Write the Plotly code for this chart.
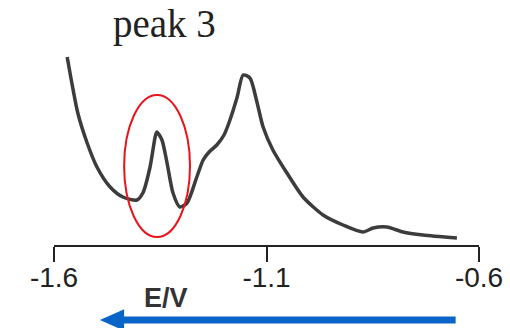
import plotly.graph_objects as go

# potencial (V) e corrente (unid. arbitrárias)
potencial = [-1.569, -1.558, -1.544, -1.522, -1.499, -1.468, -1.438, -1.405, -1.391,
             -1.374, -1.362, -1.358, -1.346, -1.334, -1.320, -1.304, -1.287, -1.264,
             -1.249, -1.235, -1.217, -1.200, -1.186, -1.169, -1.155, -1.139, -1.122,
             -1.108, -1.085, -1.052, -1.014, -0.967, -0.920, -0.873, -0.849, -0.817,
             -0.779, -0.732, -0.652]
corrente = [188, 162, 132, 102, 78, 58, 48, 45, 52,
            78, 108, 113, 105, 82, 52, 38, 42, 68,
            85, 93, 100, 110, 125, 148, 170, 167, 142,
            118, 95, 72, 48, 30, 20, 13, 17, 18,
            13, 10, 7]

ticks_e = [-1.6, -1.1, -0.6]
ticks_txt = ['-1.6', '-1.1', '-0.6']

fig = go.Figure()
fig.add_trace(go.Scatter(x=potencial, y=corrente, mode='lines',
                         line=dict(color='#3c3c3c', width=3.5, shape='spline', smoothing=0.7),
                         hoverinfo='skip'))

# elipse em volta do pico 3
fig.add_shape(type='circle', xref='x', yref='y',
              x0=-1.435, x1=-1.280, y0=8, y1=150,
              line=dict(color='#e8141c', width=2))

# seta azul (sentido da varredura)
fig.add_shape(type='line', xref='paper', yref='paper',
              x0=0.945, x1=0.155, y0=-0.306, y1=-0.306,
              line=dict(color='#0a64c8', width=7))
fig.add_shape(type='path', xref='paper', yref='paper',
              path='M 0.108 -0.306 L 0.165 -0.262 L 0.165 -0.350 Z',
              fillcolor='#0a64c8', line=dict(color='#0a64c8', width=0))

fig.add_annotation(text='peak 3', x=0.261, y=0.90, xref='paper', yref='paper',
                   xanchor='center', yanchor='middle', showarrow=False,
                   font=dict(family='Liberation Serif', size=39, color='#222222'))
fig.add_annotation(text='<b>E/V</b>', x=0.263, y=-0.216, xref='paper', yref='paper',
                   xanchor='center', yanchor='middle', showarrow=False,
                   font=dict(family='Liberation Sans', size=27, color='#333333'))

fig.update_xaxes(range=[-1.6, -0.6], showgrid=False, zeroline=False,
                 showline=True, linecolor='#222222', linewidth=2,
                 ticks='outside', ticklen=15, tickwidth=2, tickcolor='#222222',
                 tickvals=ticks_e, ticktext=ticks_txt, ticklabelstandoff=-9,
                 tickfont=dict(family='Liberation Sans', size=28, color='#222222'))
fig.update_yaxes(range=[0, 245], visible=False)
fig.update_layout(width=510, height=328, showlegend=False,
                  margin=dict(l=54, r=31, t=0, b=83),
                  plot_bgcolor='white', paper_bgcolor='white')
fig.write_html('out.html', config={'displayModeBar': False},
               post_script="document.body.style.margin='0';")
